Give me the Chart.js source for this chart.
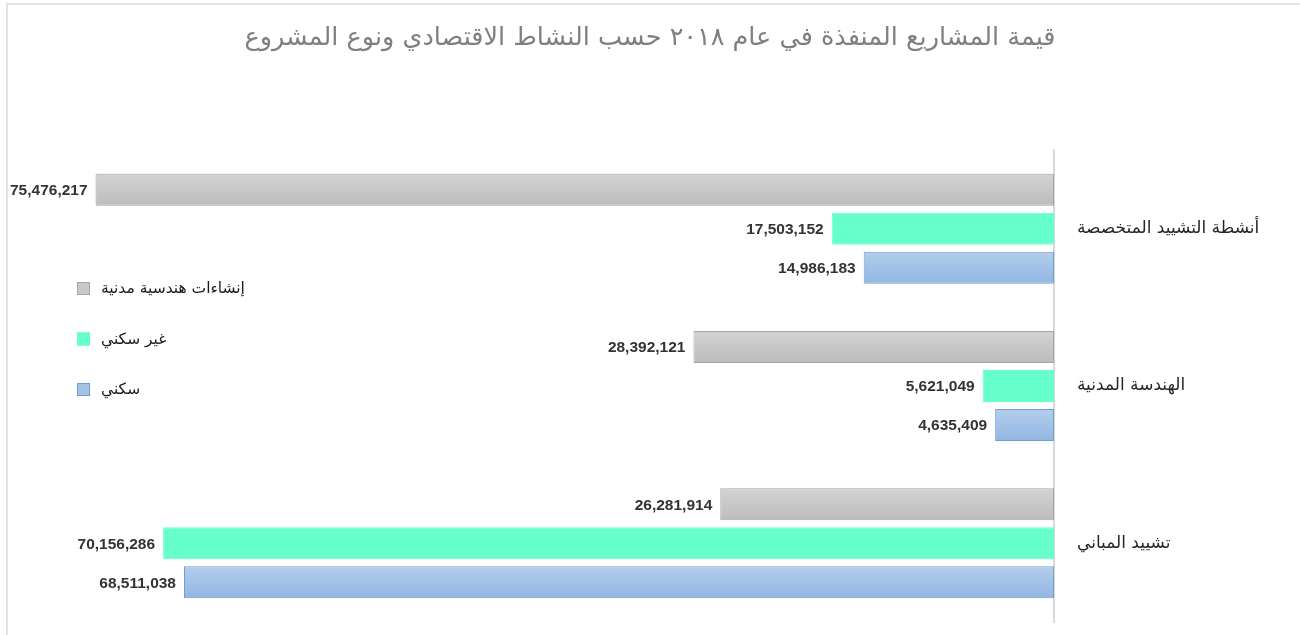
<!DOCTYPE html>
<html lang="ar">
<head>
<meta charset="utf-8">
<script src="https://cdn.jsdelivr.net/npm/chart.js@4"></script>
<style>
  html, body { margin: 0; padding: 0; background: #ffffff; }
  #wrap { position: relative; width: 1300px; height: 635px; overflow: hidden; }
  canvas { display: block; }
</style>
</head>
<body>
<div id="wrap"><canvas id="c" width="1300" height="635"></canvas></div>
<script>
// ---- data ----
const titleText = 'قيمة المشاريع المنفذة في عام ٢٠١٨ حسب النشاط الاقتصادي ونوع المشروع';
const categories = ['أنشطة التشييد المتخصصة', 'الهندسة المدنية', 'تشييد المباني'];
const seriesNames = ['إنشاءات هندسية مدنية', 'غير سكني', 'سكني'];
const civilWorks = [75476217, 28392121, 26281914];
const nonResidential = [17503152, 5621049, 70156286];
const residential = [14986183, 4635409, 68511038];

const fillColors = ['#c8c8c8', '#66ffcc', '#a6c3e7'];
const gradTop = ['#d3d3d3', '#66ffcc', '#b3cdec'];
const gradBottom = ['#bcbcbc', '#66ffcc', '#92b6e2'];
const borderColors = ['#a5a5a5', '#66ffcc', '#6f9dd4'];

const fmt = v => v.toLocaleString('en-US');

// frame around chart
const framePlugin = {
  id: 'frame',
  beforeDraw(chart) {
    const ctx = chart.ctx;
    ctx.save();
    ctx.strokeStyle = '#e2e2e2';
    ctx.lineWidth = 2;
    ctx.beginPath();
    ctx.moveTo(7, 640);
    ctx.lineTo(7, 4);
    ctx.lineTo(1305, 4);
    ctx.stroke();
    ctx.restore();
  }
};

// vertical gradient inside each bar
const barGradient = {
  id: 'barGradient',
  beforeDatasetsDraw(chart) {
    const ctx = chart.ctx;
    chart.data.datasets.forEach((ds, di) => {
      const meta = chart.getDatasetMeta(di);
      meta.data.forEach(bar => {
        const h = bar.height;
        const g = ctx.createLinearGradient(0, bar.y - h / 2, 0, bar.y + h / 2);
        g.addColorStop(0, gradTop[di]);
        g.addColorStop(1, gradBottom[di]);
        bar.options = Object.assign({}, bar.options, { backgroundColor: g });
      });
    });
  }
};

// value labels at the end of each bar
const valueLabels = {
  id: 'valueLabels',
  afterDatasetsDraw(chart) {
    const ctx = chart.ctx;
    ctx.save();
    ctx.font = 'bold 15.5px "Liberation Sans", Arial, sans-serif';
    ctx.fillStyle = '#333333';
    ctx.textAlign = 'right';
    ctx.textBaseline = 'middle';
    chart.data.datasets.forEach((ds, di) => {
      const meta = chart.getDatasetMeta(di);
      meta.data.forEach((bar, i) => {
        ctx.fillText(fmt(ds.data[i]), bar.x - 8, bar.y + 1);
      });
    });
    ctx.restore();
  }
};

// legend drawn inside the plot on the left
const sideLegend = {
  id: 'sideLegend',
  afterDraw(chart) {
    const ctx = chart.ctx;
    ctx.save();
    ctx.font = '15.5px "DejaVu Sans", sans-serif';
    ctx.textAlign = 'left';
    ctx.textBaseline = 'middle';
    chart.data.datasets.forEach((ds, i) => {
      const cy = 289 + i * 50.5;
      ctx.fillStyle = fillColors[i];
      ctx.fillRect(77, cy - 7, 13, 13);
      ctx.strokeStyle = ds.borderColor;
      ctx.lineWidth = 1;
      ctx.strokeRect(77.5, cy - 6.5, 12, 12);
      ctx.fillStyle = '#1a1a1a';
      ctx.fillText(ds.label, 101, cy);
    });
    ctx.restore();
  }
};

const datasetValues = [civilWorks, nonResidential, residential];
const datasets = datasetValues.map((vals, i) => ({
  label: seriesNames[i],
  data: vals,
  backgroundColor: fillColors[i],
  borderColor: borderColors[i],
  borderWidth: 1,
  borderSkipped: false,
  categoryPercentage: 0.744,
  barPercentage: 0.82
}));

new Chart(document.getElementById('c'), {
  type: 'bar',
  data: { labels: categories, datasets },
  options: {
    indexAxis: 'y',
    responsive: false,
    animation: false,
    devicePixelRatio: 1,
    layout: { padding: { left: 0, right: 0, top: 0, bottom: 13 } },
    plugins: {
      legend: { display: false },
      tooltip: { enabled: false },
      title: {
        display: true,
        text: titleText,
        color: '#7f7f7f',
        font: { family: '"DejaVu Sans", sans-serif', size: 25.5, weight: 'normal', lineHeight: 1.2 },
        padding: { top: 23, bottom: 96.4 }
      }
    },
    scales: {
      x: {
        reverse: true,
        min: 0,
        max: 83000000,
        display: false
      },
      y: {
        position: 'right',
        grid: { display: false },
        border: { display: true, color: '#d9d9d9', width: 2 },
        ticks: {
          color: '#262626',
          padding: 15,
          font: { family: '"DejaVu Sans", sans-serif', size: 17 }
        },
        afterFit(scale) {
          scale.width = 246;
          scale.paddingTop = 0;
          scale.paddingBottom = 0;
        }
      }
    }
  },
  plugins: [framePlugin, barGradient, valueLabels, sideLegend]
});
</script>
</body>
</html>
